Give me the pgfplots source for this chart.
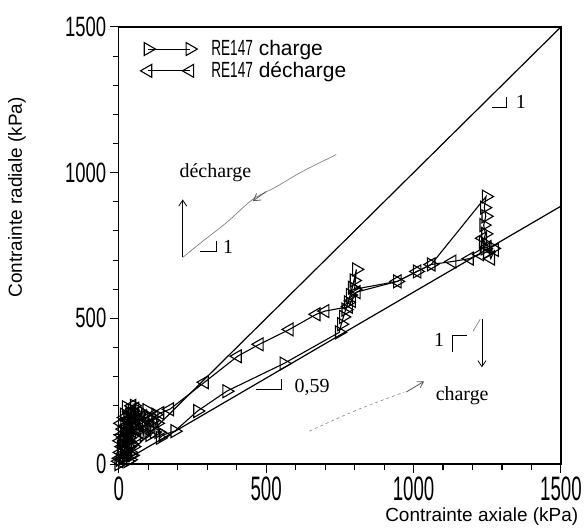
\documentclass[border=0pt]{standalone}
\usepackage{pgfplots}
\pgfplotsset{compat=1.18}
\usepackage{fontspec}
\setmainfont{Liberation Sans}
\newfontfamily\tms{Liberation Serif}
\newfontfamily\condx[FakeStretch=0.55]{Liberation Sans}
\newfontfamily\condy[FakeStretch=0.66]{Liberation Sans}
\newfontfamily\condl[FakeStretch=0.62]{Liberation Sans}
\usetikzlibrary{arrows.meta}

\pgfplotstableread{
x y
0 0
5 15
10 35
8 60
15 80
12 110
20 140
18 170
25 195
30 160
28 120
35 90
32 60
40 40
38 15
45 30
42 70
50 100
48 140
55 175
52 200
45 185
40 150
35 120
30 80
25 50
20 25
30 10
40 30
50 60
55 90
60 120
58 160
65 185
70 150
75 120
85 100
80 140
90 170
95 185
100 160
110 130
105 100
120 110
115 150
125 170
130 140
135 110
140 90
150 100
190 113
267 182
366 250
560 345
748 452
755 480
762 505
770 530
778 555
785 580
792 605
798 630
806 668
800 600
945 627
1012 661
1060 685
1246 918
1240 880
1245 850
1238 820
1244 790
1236 760
1242 740
1250 726
1270 740
}\charge

\pgfplotstableread{
x y
1275 735
1262 705
1250 745
1235 775
1225 720
1190 705
1131 695
1060 685
1012 661
945 627
806 590
790 560
780 540
700 525
670 514
579 462
477 411
403 370
291 281
173 188
140 175
120 160
100 150
90 120
70 110
60 150
55 190
50 170
45 200
40 160
42 130
35 110
38 180
30 150
28 100
25 70
22 130
20 160
15 120
18 90
12 60
10 100
8 140
5 80
6 40
3 20
0 10
}\decharge

\begin{document}
\begin{tikzpicture}
\begin{axis}[
  scale only axis,
  width=443bp, height=438bp,
  xmin=0, xmax=1500, ymin=0, ymax=1500,
  clip=false,
  axis line style={line width=1.3bp},
  xtick={0,500,1000,1500}, ytick={0,500,1000,1500},
  minor tick num=4,
  tick align=outside,
  xtick pos=bottom, ytick pos=left,
  major tick length=9bp, minor tick length=6bp,
  tick style={line width=1.1bp, black},
  /pgf/number format/assume math mode=true,
  /pgf/number format/set thousands separator={},
  xticklabel style={font=\condx\fontsize{34bp}{34bp}\selectfont},
  yticklabel style={font=\condy\fontsize{28bp}{28bp}\selectfont},
  xlabel={Contrainte axiale (kPa)},
  ylabel={Contrainte radiale (kPa)},
  label style={font=\fontsize{19bp}{22bp}\selectfont},
  xlabel style={at={(axis description cs:1.047,-0.121)}, anchor=east},
  ylabel style={at={(axis description cs:-0.230,0.61)}, anchor=center},
  legend style={at={(axis description cs:0.042,0.978)}, anchor=north west,
    draw=none, fill=none, font=\fontsize{21bp}{24bp}\selectfont, row sep=1bp,
    /tikz/every odd column/.append style={column sep=12bp}},
  legend cell align=left,
  legend image code/.code={\draw[#1] plot coordinates {(0bp,0bp) (42bp,0bp)};},
]
\addplot[black, line width=1.1bp, mark=triangle, mark size=7.5pt,
  mark options={rotate=-90, solid, fill=none}] table {\charge};
\addlegendentry{{\condl\fontsize{22bp}{24bp}\selectfont RE147} charge}
\addplot[black, line width=1.1bp, mark=triangle, mark size=7.5pt,
  mark options={rotate=90, solid, fill=none}] table {\decharge};
\addlegendentry{{\condl\fontsize{22bp}{24bp}\selectfont RE147} décharge}

% reference lines
\addplot[black, line width=1.2bp, forget plot] coordinates {(0,0) (1500,1500)};
\addplot[black, line width=1.2bp, forget plot] coordinates {(0,0) (1500,885)};

% slope marks
\addplot[black, line width=0.8bp, forget plot] coordinates {(1266,1223) (1314,1223) (1314,1260)};
\node[font=\tms\fontsize{20bp}{20bp}\selectfont, anchor=west] at (axis cs:1335,1243) {1};
\addplot[black, line width=0.8bp, forget plot] coordinates {(467,257) (552,257) (552,291)};
\node[font=\tms\fontsize{20bp}{20bp}\selectfont, anchor=west] at (axis cs:585,264) {0,59};

% decharge annotation
\addplot[black, line width=0.8bp, -{Straight Barb[length=6bp,width=8bp]}, forget plot] coordinates {(217,709) (217,908)};
\addplot[gray, line width=0.7bp, smooth, forget plot] coordinates {(217,709) (284,764) (366,829) (454,908) (535,952) (623,1004) (738,1062)};
\addplot[gray!70!black, line width=0.8bp, -{Straight Barb[length=7bp,width=8bp]}, forget plot] coordinates {(500,935) (454,902)};
\addplot[black, line width=0.8bp, forget plot] coordinates {(274,730) (332,730) (332,764)};
\node[font=\tms\fontsize{20bp}{20bp}\selectfont, anchor=west] at (axis cs:342,745) {1};
\node[font=\tms\fontsize{20bp}{20bp}\selectfont] at (axis cs:328,1000) {décharge};

% charge annotation
\node[font=\tms\fontsize{20bp}{20bp}\selectfont] at (axis cs:1087,425) {1};
\addplot[black, line width=0.8bp, forget plot] coordinates {(1131,384) (1131,442) (1182,442)};
\addplot[gray, line width=0.7bp, forget plot] coordinates {(1202,456) (1226,497)};
\addplot[black, line width=0.8bp, -{Straight Barb[length=6bp,width=8bp]}, forget plot] coordinates {(1232,497) (1232,332)};
\node[font=\tms\fontsize{20bp}{20bp}\selectfont] at (axis cs:1165,233) {charge};
\addplot[gray, line width=0.6bp, dashed, smooth, forget plot] coordinates {(647,113) (799,182) (968,247)};
\addplot[gray!70!black, line width=0.8bp, -{Straight Barb[length=6bp,width=7bp]}, forget plot] coordinates {(975,247) (1036,284)};

\path (axis description cs:-0.2686,-0.1507) rectangle (axis description cs:1.0519,1.0616);
\end{axis}
\end{tikzpicture}
\end{document}
